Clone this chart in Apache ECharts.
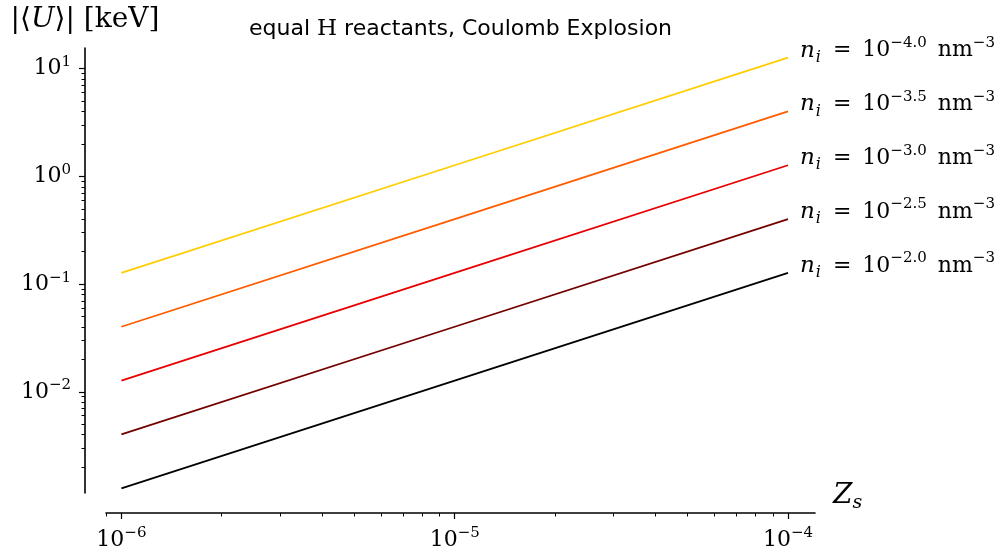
<!DOCTYPE html>
<html>
<head>
<meta charset="utf-8">
<script src="https://cdn.jsdelivr.net/npm/echarts@6/dist/echarts.min.js"></script>
<style>
html, body { margin: 0; background: #fff; }
#main { width: 1006px; height: 558px; }
</style>
</head>
<body>
<div id="main"></div>
<script>
// Z_s values where the curves were read
var zs = [1e-6, 1e-5, 1e-4];
// ion density exponents, one per curve (n_i = 10^exp nm^-3)
var densityExp = ['−4.0', '−3.5', '−3.0', '−2.5', '−2.0'];
var lineColors = ['#ffcd00', '#ff5c00', '#e90000', '#740000', '#000000'];
// |<U>| in keV
var uDens40 = [0.127, 1.27, 12.7];
var uDens35 = [0.0402, 0.402, 4.02];
var uDens30 = [0.0127, 0.127, 1.27];
var uDens25 = [0.00402, 0.0402, 0.402];
var uDens20 = [0.00127, 0.0127, 0.127];
var energies = [uDens40, uDens35, uDens30, uDens25, uDens20];

// ticks
var xTicks = [1e-6, 1e-5, 1e-4];
var xTickExp = ['−6', '−5', '−4'];
var yTicks = [1e-2, 1e-1, 1, 10];
var yTickExp = ['−2', '−1', '0', '1'];

var serif = 'DejaVu Serif';

function tickLabel(ticks, exps) {
    return function (value) {
        for (var i = 0; i < ticks.length; i++) {
            if (Math.abs(Math.log10(value) - Math.log10(ticks[i])) < 1e-6) {
                return '{b|10}{s|' + exps[i] + '}';
            }
        }
        return '';
    };
}

var tickRich = {
    b: { fontFamily: serif, fontSize: 22, lineHeight: 28, color: '#000' },
    s: { fontFamily: serif, fontSize: 15, lineHeight: 16, verticalAlign: 'top', color: '#000' }
};

var labelRich = {
    n: { fontFamily: serif, fontStyle: 'italic', fontSize: 23, lineHeight: 30, color: '#000' },
    i: { fontFamily: serif, fontStyle: 'italic', fontSize: 16, lineHeight: 16, verticalAlign: 'bottom', padding: [0, 1, 0, 1], color: '#000' },
    t: { fontFamily: serif, fontSize: 22, lineHeight: 30, color: '#000' },
    s: { fontFamily: serif, fontSize: 15, lineHeight: 16, verticalAlign: 'top', color: '#000' }
};

var chart = echarts.init(document.getElementById('main'), null, { renderer: 'canvas' });

var option = {
    backgroundColor: '#ffffff',
    animation: false,
    title: {
        text: 'equal {h|H} reactants, Coulomb Explosion',
        left: 244,
        top: 13,
        textStyle: {
            fontFamily: 'DejaVu Sans',
            fontSize: 22,
            fontWeight: 'normal',
            color: '#000',
            rich: {
                h: { fontFamily: serif, fontSize: 23, color: '#000' }
            }
        }
    },
    grid: {
        left: 106,
        right: 191,
        top: 48,
        bottom: 65
    },
    xAxis: {
        type: 'log',
        logBase: 10,
        min: 8.99e-7,
        max: 1.205e-4,
        offset: 20,
        name: '{z|Z}{s|s}',
        nameLocation: 'end',
        nameGap: 18,
        nameTextStyle: {
            verticalAlign: 'bottom',
            rich: {
                z: { fontFamily: serif, fontStyle: 'italic', fontSize: 28, lineHeight: 34, color: '#000' },
                s: { fontFamily: serif, fontStyle: 'italic', fontSize: 19, lineHeight: 18, verticalAlign: 'bottom', color: '#000' }
            }
        },
        axisLine: { show: true, lineStyle: { color: '#000', width: 1.6 } },
        axisTick: { show: true, length: 6, customValues: xTicks, lineStyle: { color: '#000', width: 1.2 } },
        minorTick: { show: true, splitNumber: 9, length: 3.5, lineStyle: { color: '#000', width: 1 } },
        axisLabel: {
            customValues: xTicks,
            margin: 13,
            formatter: tickLabel(xTicks, xTickExp),
            rich: tickRich
        },
        splitLine: { show: false },
        minorSplitLine: { show: false }
    },
    yAxis: {
        type: 'log',
        logBase: 10,
        min: 1.149e-3,
        max: 15.58,
        offset: 21,
        name: '|⟨{u|U}⟩| [keV]',
        nameLocation: 'end',
        nameGap: 14,
        nameTextStyle: {
            fontFamily: serif,
            fontSize: 28,
            color: '#000',
            align: 'center',
            rich: {
                u: { fontFamily: serif, fontStyle: 'italic', fontSize: 28, color: '#000' }
            }
        },
        axisLine: { show: true, lineStyle: { color: '#000', width: 1.6 } },
        axisTick: { show: true, length: 6, customValues: yTicks, lineStyle: { color: '#000', width: 1.2 } },
        minorTick: { show: true, splitNumber: 9, length: 3.5, lineStyle: { color: '#000', width: 1 } },
        axisLabel: {
            customValues: yTicks,
            margin: 14,
            formatter: tickLabel(yTicks, yTickExp),
            rich: tickRich
        },
        splitLine: { show: false },
        minorSplitLine: { show: false }
    },
    series: energies.map(function (vals, k) {
        return {
            type: 'line',
            name: 'n_i = 10^' + densityExp[k],
            data: zs.map(function (x, j) { return [x, vals[j]]; }),
            symbol: 'none',
            showSymbol: false,
            lineStyle: { color: lineColors[k], width: 1.8 },
            itemStyle: { color: lineColors[k] },
            endLabel: {
                show: true,
                distance: 12,
                offset: [0, -7],
                formatter: '{n|n}{i|i}{t|\u2002=\u200210}{s|' + densityExp[k] + '}{t|\u2002nm}{s|−3}',
                rich: labelRich
            }
        };
    })
};

chart.setOption(option);
</script>
</body>
</html>
